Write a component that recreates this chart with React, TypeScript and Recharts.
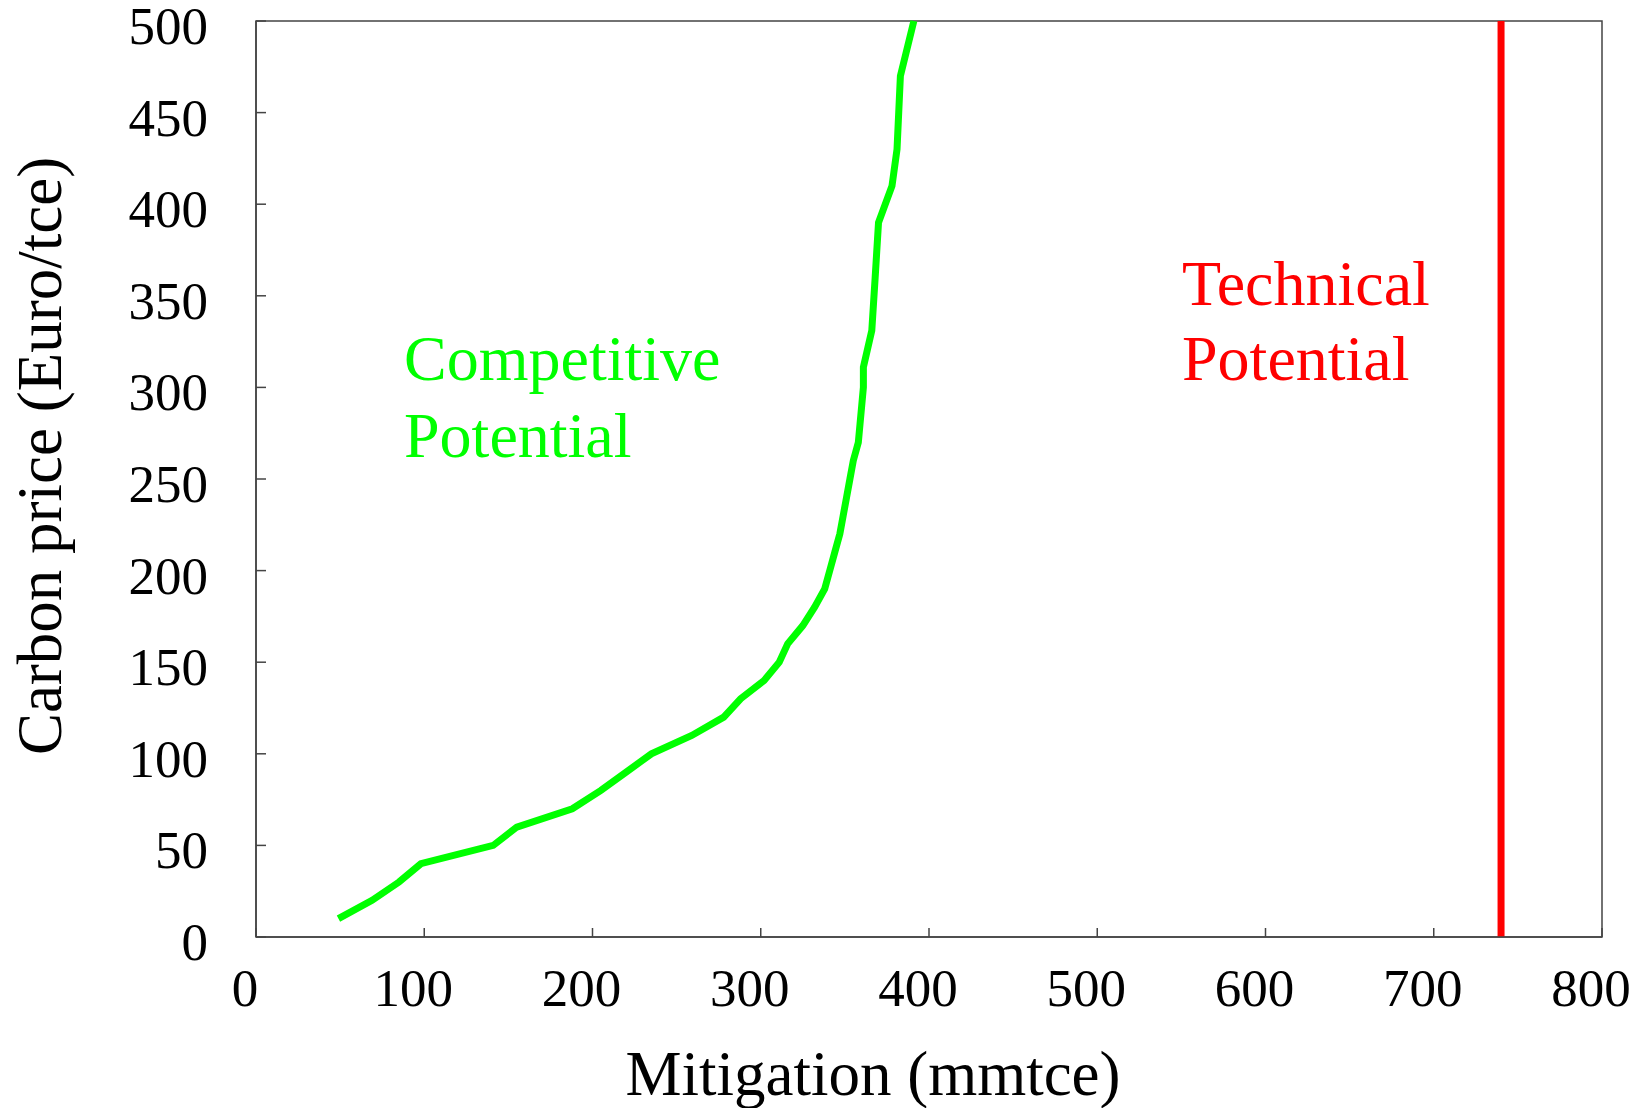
import React from 'react'
import { LineChart, Line, XAxis, YAxis, ReferenceLine, ReferenceArea, Customized } from 'recharts'

// Competitive potential curve
const mitigation = [49, 69, 85, 98, 141, 155, 188, 205, 220, 235, 259, 278, 288, 302, 311, 316, 325, 332, 338, 341, 344, 347, 349, 351, 353, 355, 358, 359, 360, 361, 361, 366, 368, 370, 378, 381, 383, 391]
const carbonPrice = [10, 20, 30, 40, 50, 60, 70, 80, 90, 100, 110, 120, 130, 140, 150, 160, 170, 180, 190, 200, 210, 220, 230, 240, 250, 260, 270, 280, 290, 300, 311, 331, 360, 390, 410, 430, 470, 500]

const technicalPotential = 740

const xTicks = [0, 100, 200, 300, 400, 500, 600, 700, 800]
const yTicks = [0, 50, 100, 150, 200, 250, 300, 350, 400, 450, 500]

const data = mitigation.map((m, i) => ({ mitigation: m, price: carbonPrice[i] }))

const FONT = '"Liberation Serif", "Times New Roman", serif'
const AXIS = '#444'

function YTick(props: any) {
  const { x, y, payload } = props
  return (
    <g>
      <line x1={x} y1={y} x2={x + 10} y2={y} stroke={AXIS} strokeWidth={1.5} />
      <text x={x - 48} y={y + 23} textAnchor="end" fontFamily={FONT} fontSize={53} fill="#000">
        {payload.value}
      </text>
    </g>
  )
}

function XTick(props: any) {
  const { x, y, payload } = props
  return (
    <g>
      <line x1={x} y1={y} x2={x} y2={y - 9} stroke={AXIS} strokeWidth={1.5} />
      <text x={x - 11} y={y + 69} textAnchor="middle" fontFamily={FONT} fontSize={53} fill="#000">
        {payload.value}
      </text>
    </g>
  )
}

function Titles() {
  return (
    <g fontFamily={FONT}>
      <text x={873} y={1095} textAnchor="middle" fontSize={63} fill="#000">Mitigation (mmtce)</text>
      <text x={61} y={456} textAnchor="middle" fontSize={63} fill="#000" transform="rotate(-90 61 456)">
        Carbon price (Euro/tce)
      </text>
      <text x={404} y={380} fontSize={64} fill="#00ff00">Competitive</text>
      <text x={404} y={457} fontSize={64} fill="#00ff00">Potential</text>
      <text x={1182} y={305} fontSize={64} fill="#ff0000">Technical</text>
      <text x={1182} y={380} fontSize={64} fill="#ff0000">Potential</text>
    </g>
  )
}

export default function App() {
  return (
    <div style={{ position: 'absolute', left: 0, top: 0, width: 1645, height: 1108, background: '#fff' }}>
      <LineChart width={1645} height={1108} data={data} margin={{ top: 21, right: 43, left: 0, bottom: 0 }}>
        <XAxis
          type="number"
          dataKey="mitigation"
          domain={[0, 800]}
          ticks={xTicks}
          interval={0}
          height={171}
          tickSize={0}
          tickMargin={0}
          tickLine={false}
          axisLine={{ stroke: AXIS, strokeWidth: 1.5 }}
          tick={<XTick />}
        />
        <YAxis
          type="number"
          domain={[0, 500]}
          ticks={yTicks}
          interval={0}
          width={256}
          tickSize={0}
          tickMargin={0}
          tickLine={false}
          axisLine={{ stroke: AXIS, strokeWidth: 1.5 }}
          tick={<YTick />}
        />
        <ReferenceArea x1={0} x2={800} y1={0} y2={500} fill="none" stroke={AXIS} strokeWidth={1.5} />
        <ReferenceLine x={technicalPotential} stroke="#ff0000" strokeWidth={7} />
        <Line
          type="linear"
          dataKey="price"
          stroke="#00ff00"
          strokeWidth={7}
          dot={false}
          isAnimationActive={false}
        />
        <Customized component={<Titles />} />
      </LineChart>
    </div>
  )
}
